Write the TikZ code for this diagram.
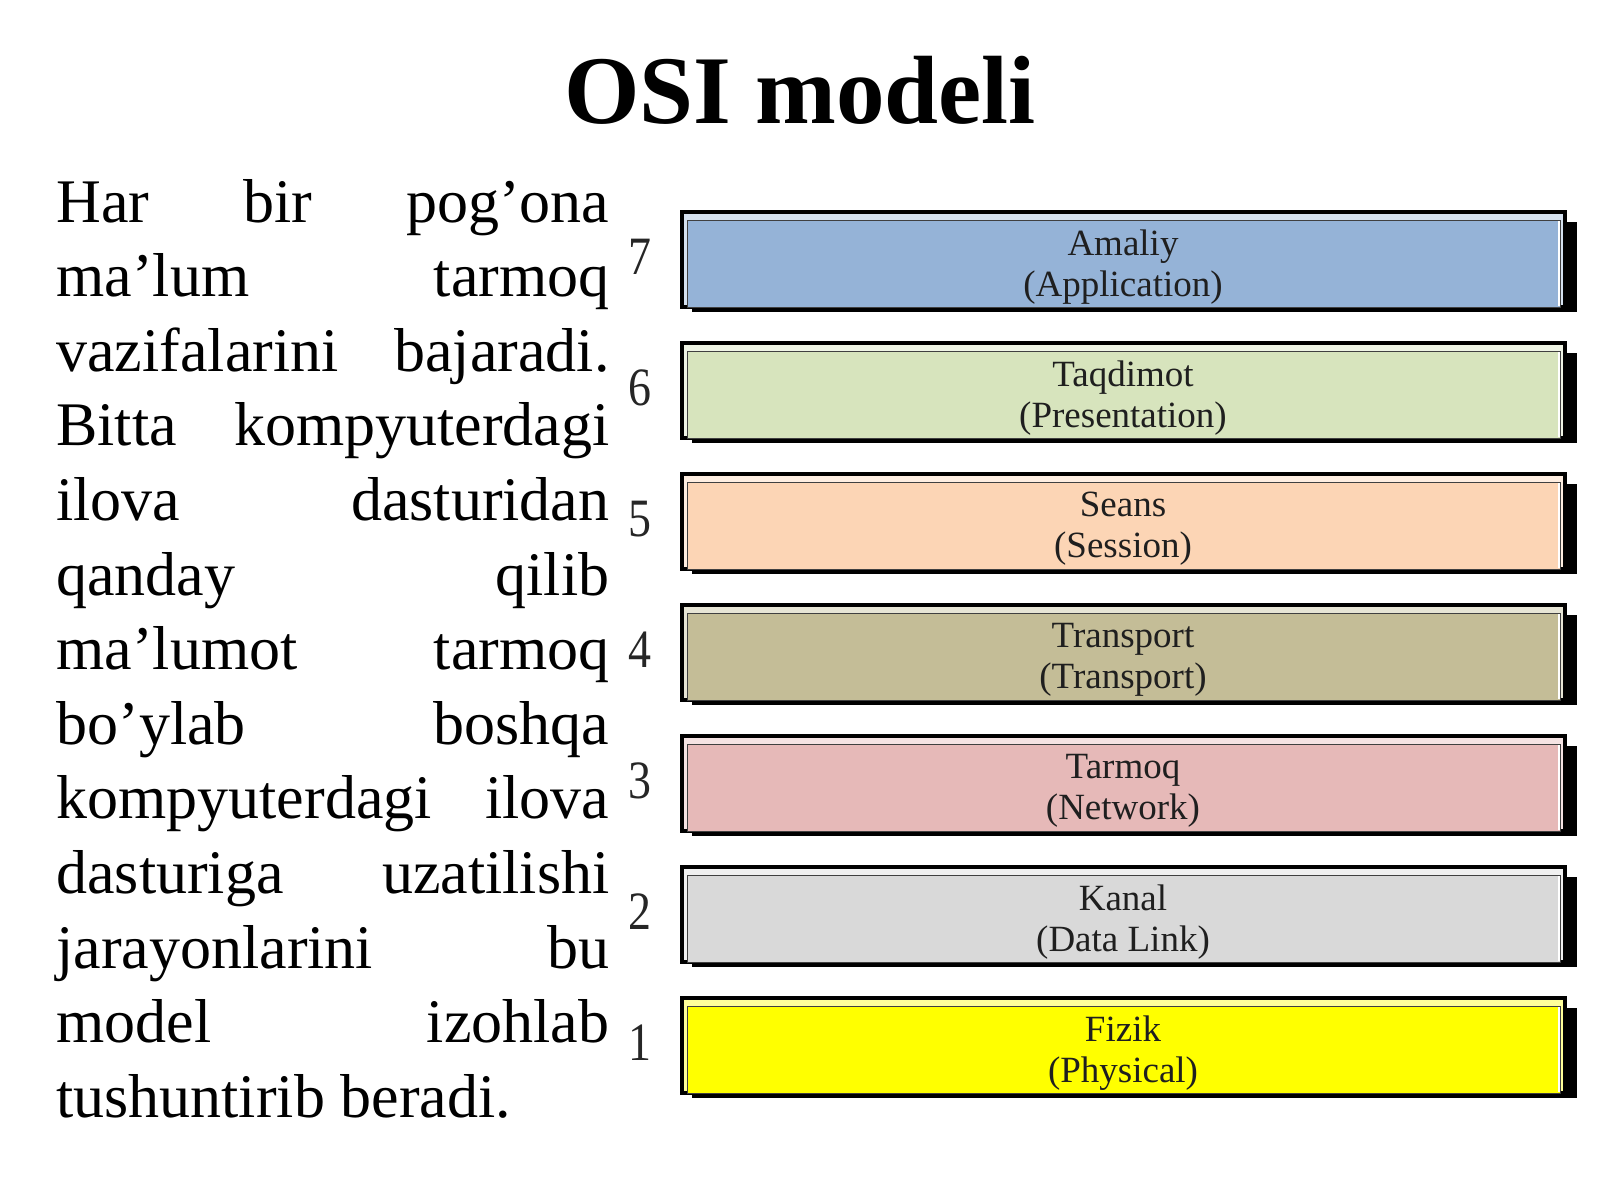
\documentclass[tikz,border=0pt]{standalone}
\usepackage{fontspec}
\setmainfont{Liberation Serif}
\definecolor{cA}{HTML}{95B3D7}
\definecolor{cB}{HTML}{D7E4BD}
\definecolor{cC}{HTML}{FCD5B5}
\definecolor{cD}{HTML}{C4BD97}
\definecolor{cE}{HTML}{E6B9B8}
\definecolor{cF}{HTML}{D9D9D9}
\definecolor{cG}{HTML}{FFFF00}
\begin{document}
\begin{tikzpicture}[x=0.5pt,y=-0.5pt,
  shadowbox/.style={fill=black},
  outerframe/.style={draw=black,line width=1.6pt},
  innerframe/.style={draw=black!75,line width=0.5pt},
  layertext/.style={align=center,text=black!88,inner sep=0pt,
    font=\fontsize{18.5}{20.5}\selectfont},
  numtext/.style={text=black!85,inner sep=0pt,font=\fontsize{27}{30}\selectfont},
  bodytext/.style={inner sep=0pt,anchor=base west,font=\fontsize{31}{37.3}\selectfont}]
\useasboundingbox (0,0) rectangle (1600,1200);
\fill[white] (0,0) rectangle (1600,1200);
\node[anchor=base,inner sep=0pt,font=\bfseries\fontsize{48.5}{56}\selectfont] (title) at (800,123) {OSI modeli};
\node[bodytext] (para) at (56,222) {\parbox[t]{276.5pt}{%
\makebox[\linewidth][s]{Har bir pog’ona}\\
\makebox[\linewidth][s]{ma’lum tarmoq}\\
\makebox[\linewidth][s]{vazifalarini bajaradi.}\\
\makebox[\linewidth][s]{Bitta kompyuterdagi}\\
\makebox[\linewidth][s]{ilova dasturidan}\\
\makebox[\linewidth][s]{qanday qilib}\\
\makebox[\linewidth][s]{ma’lumot tarmoq}\\
\makebox[\linewidth][s]{bo’ylab boshqa}\\
\makebox[\linewidth][s]{kompyuterdagi ilova}\\
\makebox[\linewidth][s]{dasturiga uzatilishi}\\
\makebox[\linewidth][s]{jarayonlarini bu}\\
\makebox[\linewidth][s]{model izohlab}\\
tushuntirib beradi.}};
\foreach \t/\c/\n/\a/\b [count=\i] in {
  212/cA/7/Amaliy/(Application),
  343/cB/6/Taqdimot/(Presentation),
  474/cC/5/Seans/(Session),
  605/cD/4/Transport/(Transport),
  736/cE/3/Tarmoq/(Network),
  867/cF/2/Kanal/(Data Link),
  998/cG/1/Fizik/(Physical)}{
  \fill[shadowbox] (692,\t+10) rectangle (1577,\t+100);
  \draw[outerframe,fill=\c!40!white] (682,\t) rectangle (1565,\t+95);
  \draw[innerframe,fill=\c] (687,\t+8) rectangle (1560,\t+95);
  \draw[white,line width=0.6pt] (1559,\t+94) -- (1559,\t+9);
  \node[layertext] (L\n) at (1123,\t+55) {\a\\\b};
  \node[numtext] (N\n) at (640,\t+45) {\scalebox{0.85}[1]{\n}};
}
\end{tikzpicture}
\end{document}
